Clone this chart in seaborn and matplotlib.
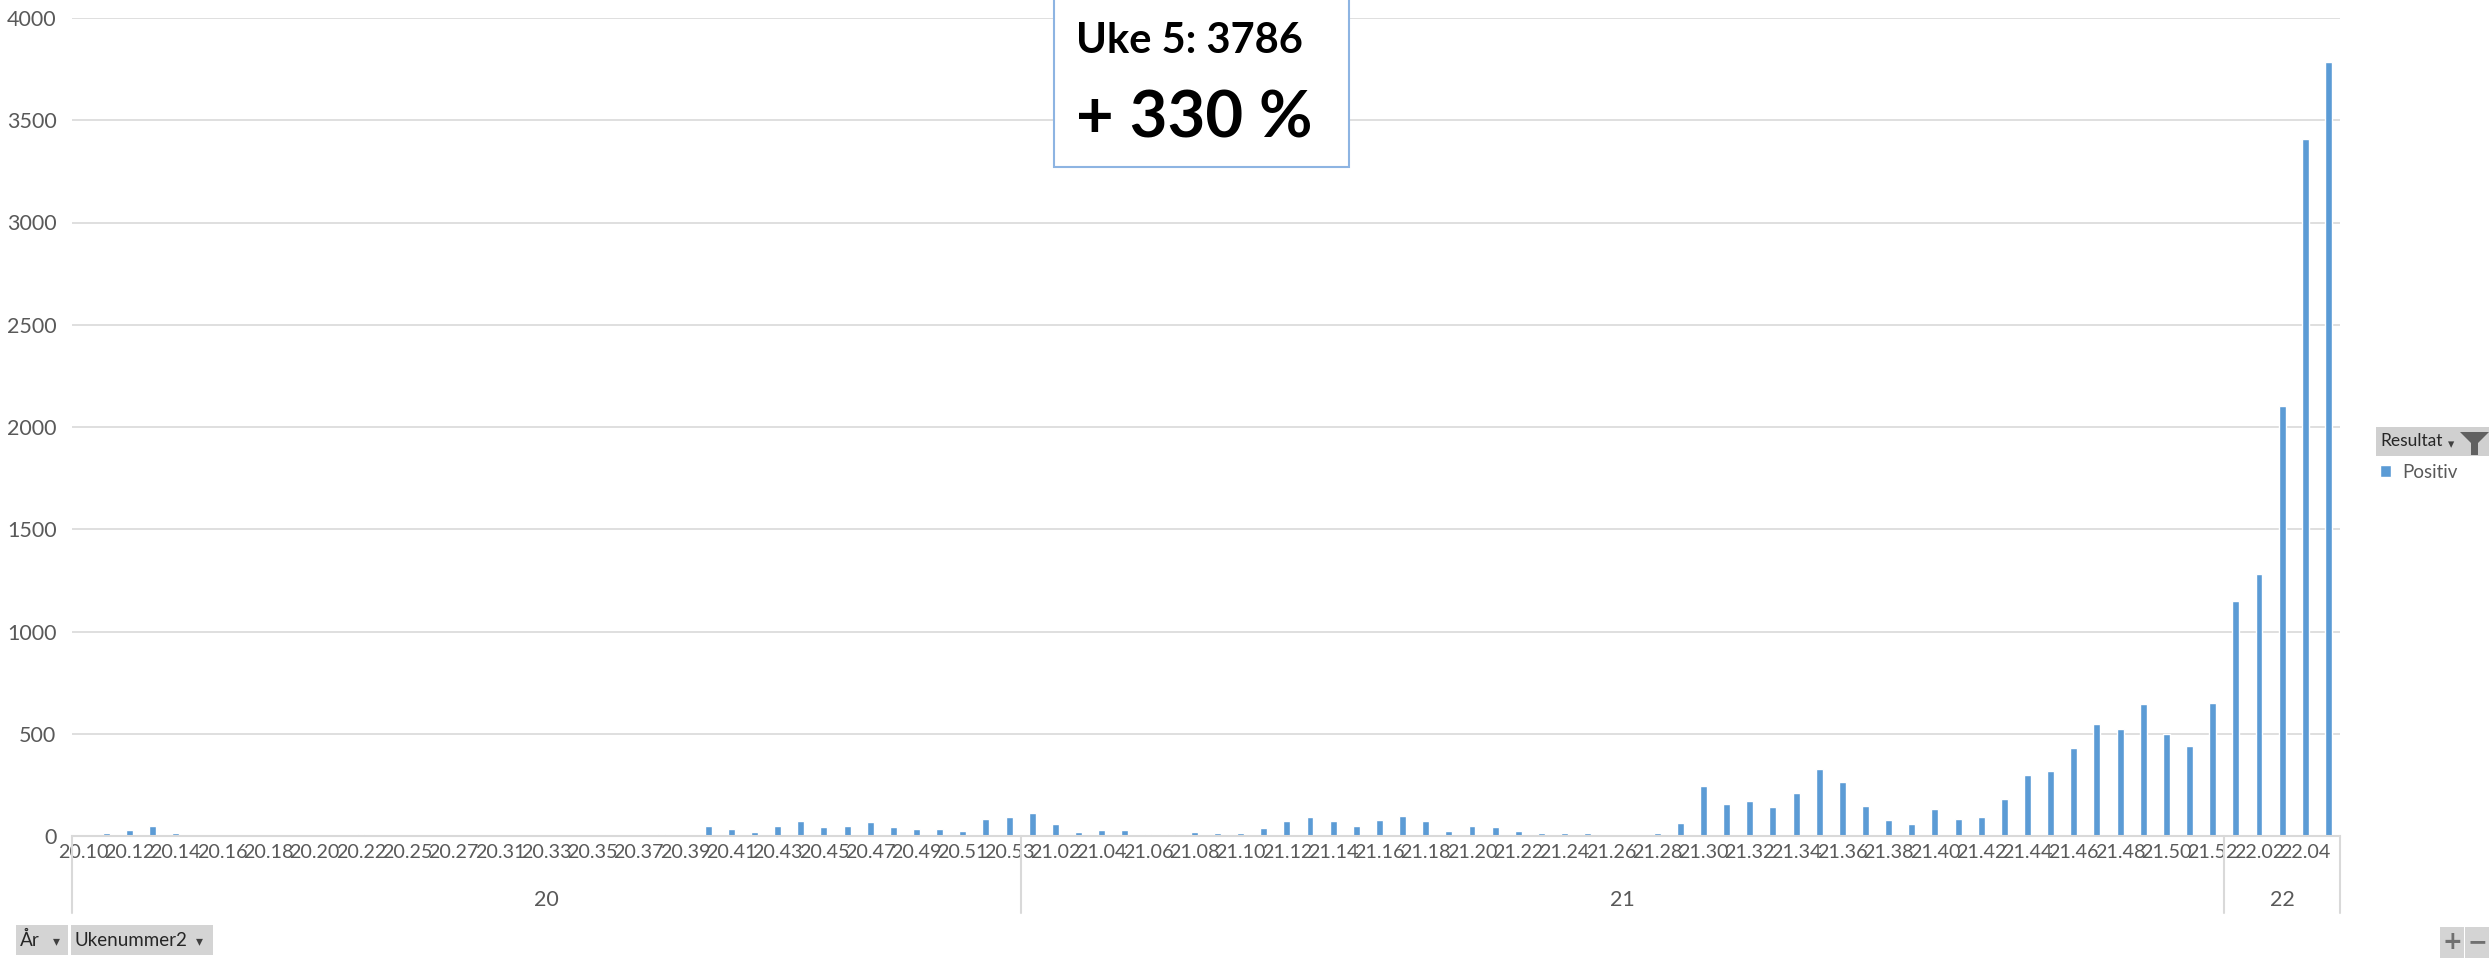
import numpy as np
import pandas as pd
import seaborn as sns
import matplotlib.pyplot as plt
from matplotlib.patches import Rectangle, Polygon
import matplotlib.transforms as mtransforms

# Ukenummer per år (kategorier i pivotdiagrammet)
uker_2020 = [10, 11, 12, 13, 14, 15, 16, 17, 18, 19, 20, 21, 22, 23, 25, 26, 27, 29,
             31, 32, 33, 34, 35, 36, 37, 38, 39, 40, 41, 42, 43, 44, 45, 46, 47, 48,
             49, 50, 51, 52, 53]
uker_2021 = [1, 2, 3, 4, 5, 6, 7, 8, 9, 10, 11, 12, 13, 14, 15, 16, 17, 18, 19, 20,
             21, 22, 23, 24, 25, 26, 27, 28, 29, 30, 31, 32, 33, 34, 35, 36, 37, 38,
             39, 40, 41, 42, 43, 44, 45, 46, 47, 48, 49, 50, 51, 52]
uker_2022 = [1, 2, 3, 4, 5]

# Antall positive per uke
positiv_2020 = [0, 13, 29, 49, 13, 0, 0, 0, 0, 0, 0, 0, 8, 0, 0, 0, 0, 0,
                0, 0, 0, 0, 0, 0, 0, 8, 0, 49, 33, 18, 49, 72, 44, 49, 67, 44,
                33, 33, 23, 81, 91]
positiv_2021 = [112, 60, 18, 29, 29, 8, 8, 18, 13, 13, 39, 72, 91, 72, 49, 77, 96, 72,
                23, 49, 44, 23, 13, 13, 13, 0, 0, 13, 65, 243, 155, 169, 143, 212,
                326, 264, 148, 77, 60, 134, 81, 91, 181, 300, 316, 431, 548, 521,
                645, 497, 440, 651]
positiv_2022 = [1151, 1280, 2105, 3407, 3786]

aar = ["20", "21", "22"]

rows = []
for a, uker, verdier in zip(aar, [uker_2020, uker_2021, uker_2022],
                            [positiv_2020, positiv_2021, positiv_2022]):
    for u, v in zip(uker, verdier):
        rows.append({"aar": a, "uke": f"{a}.{u:02d}", "positiv": v})
df = pd.DataFrame(rows)

W, H = 2489, 965
BLUE = "#5B9BD5"
GRID = "#D9D9D9"
TXT = "#595959"
FS = 15.5

sns.set_style("white")
plt.rcParams["font.family"] = ["Lato", "DejaVu Sans"]

fig = plt.figure(figsize=(W / 100, H / 100), dpi=100)
x0, x1, ytop, ybase = 71.7, 2340, 18, 836
ax = fig.add_axes([x0 / W, 1 - ybase / H, (x1 - x0) / W, (ybase - ytop) / H])

sns.barplot(data=df, x="uke", y="positiv", color=BLUE, saturation=1,
            width=0.3, ax=ax, label="Positiv")

ax.set_ylim(0, 4000)
ax.set_xlim(-0.5, len(df) - 0.5)
ax.set_yticks(np.arange(0, 4001, 500))
ax.yaxis.grid(True, color=GRID, linewidth=1.2)
ax.set_axisbelow(True)
ax.set_xlabel("")
ax.set_ylabel("")
for s in ["top", "right", "left"]:
    ax.spines[s].set_visible(False)
ax.spines["bottom"].set_color(GRID)
ax.spines["bottom"].set_linewidth(1.5)

labels = df["uke"].tolist()
ax.set_xticks(range(0, len(df), 2))
ax.set_xticklabels(labels[::2])
ax.tick_params(axis="x", length=0, pad=6, labelsize=14.2, labelcolor=TXT)
ax.tick_params(axis="y", length=0, pad=11, labelsize=FS, labelcolor=TXT)

# grupperte årsetiketter og skillelinjer
trans = mtransforms.blended_transform_factory(ax.transData, ax.transAxes)
counts = df.groupby("aar", sort=False).size().tolist()
grenser = np.concatenate([[0], np.cumsum(counts)]) - 0.5
ybunn = (ybase - 913) / (ybase - ytop)
for g in grenser:
    ax.plot([g, g], [0, ybunn], color=GRID, linewidth=1.5, transform=trans,
            clip_on=False)
for a, lo, hi in zip(aar, grenser[:-1], grenser[1:]):
    ax.text((lo + hi) / 2, (ybase - 900) / (ybase - ytop), a, transform=trans,
            ha="center", va="center", fontsize=FS, color=TXT)

# legend
leg = ax.legend(loc="upper left", bbox_to_anchor=(2380 / W, 1 - 464 / H),
                bbox_transform=fig.transFigure, frameon=False, fontsize=13.5,
                handlelength=0.6, handleheight=0.6, handletextpad=0.6,
                borderaxespad=0, borderpad=0)
for t in leg.get_texts():
    t.set_color(TXT)

fig.patches.append(Rectangle((2376 / W, 1 - 456 / H), 113 / W, 29 / H,
                             transform=fig.transFigure, facecolor="#D0D0D0",
                             edgecolor="none", zorder=5))
fig.text(2380 / W, 1 - 441 / H, "Resultat", fontsize=12.5, color="#262626",
         va="center", ha="left", zorder=6)
fig.text(2451 / W, 1 - 445 / H, "▾", fontsize=9, color="#404040",
         va="center", ha="center", zorder=6, family=["DejaVu Sans"])
trakt = [(2460, 432), (2489, 432), (2478, 443), (2478, 455), (2471, 455), (2471, 443)]
fig.patches.append(Polygon([(x / W, 1 - y / H) for x, y in trakt], closed=True,
                           transform=fig.transFigure, facecolor="#606060",
                           edgecolor="none", zorder=6))

# knapper nederst
for (bx0, bx1, tekst, pil) in [(16, 68, "År", 56), (71, 213, "Ukenummer2", 199)]:
    fig.patches.append(Rectangle((bx0 / W, 1 - 955 / H), (bx1 - bx0) / W, 30 / H,
                                 transform=fig.transFigure, facecolor="#D4D4D4",
                                 edgecolor="none", zorder=5))
    fig.text((bx0 + 4) / W, 1 - 940 / H, tekst, fontsize=13.5, color="#262626",
             va="center", ha="left", zorder=6)
    fig.text(pil / W, 1 - 941 / H, "▾", fontsize=10, color="#404040",
             va="center", ha="center", zorder=6, family=["DejaVu Sans"])
for (bx0, tegn) in [(2440, "+"), (2465, "−")]:
    fig.patches.append(Rectangle((bx0 / W, 1 - 958 / H), 24 / W, 31 / H,
                                 transform=fig.transFigure, facecolor="#D4D4D4",
                                 edgecolor="none", zorder=5))
    fig.text((bx0 + 12) / W, 1 - 942 / H, tegn, fontsize=17, color="#707070",
             va="center", ha="center", zorder=6, fontweight="bold",
             family=["DejaVu Sans"])

# tekstboks
fig.patches.append(Rectangle((1054 / W, 1 - 167 / H), 295 / W, 170 / H,
                             transform=fig.transFigure, facecolor="white",
                             edgecolor="#8DB4E2", linewidth=1.5, zorder=5))
fig.text(1076 / W, 1 - 53 / H, "Uke 5: 3786", fontsize=30, fontweight="bold",
         color="black", va="baseline", ha="left", zorder=6)
fig.text(1076 / W, 1 - 137 / H, "+ 330 %", fontsize=47, fontweight="bold",
         color="black", va="baseline", ha="left", zorder=6)

fig.savefig("out.png", dpi=100, facecolor="white")
